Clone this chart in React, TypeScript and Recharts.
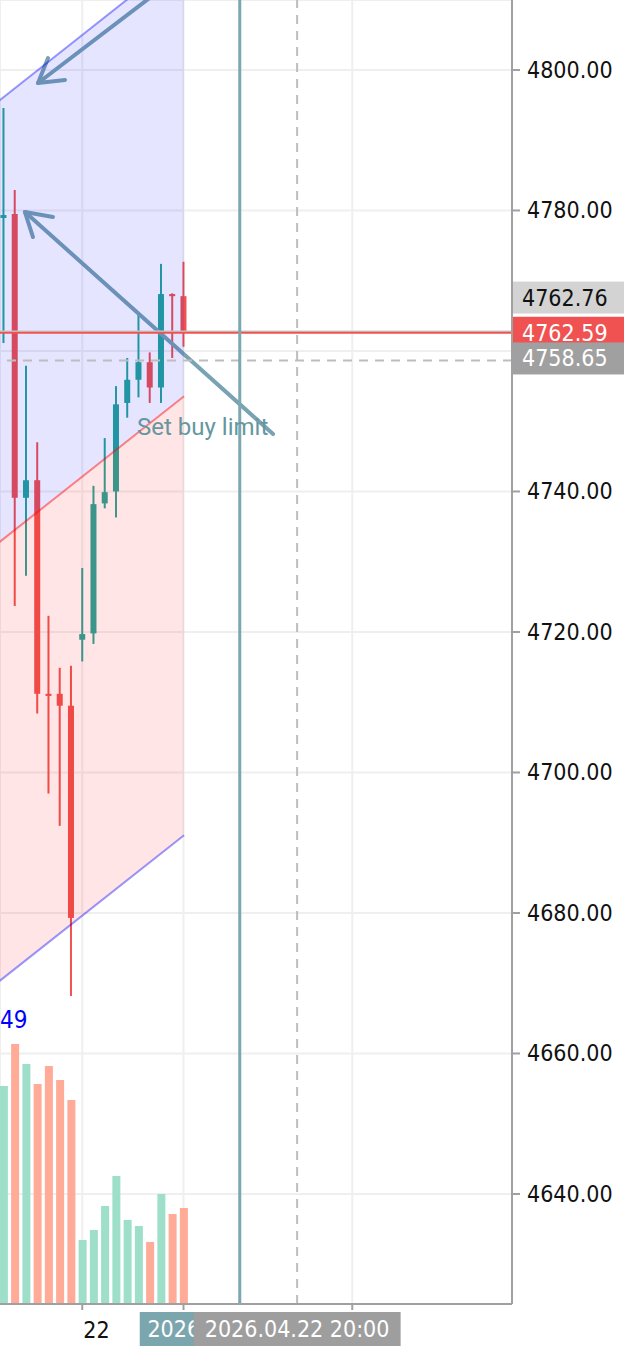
import React from 'react';
import {
  ComposedChart,
  Bar,
  Area,
  Line,
  XAxis,
  YAxis,
  CartesianGrid,
  ReferenceLine,
  ReferenceDot,
  Cell,
} from 'recharts';

const AXIS_FONT = '"DejaVu Sans Condensed", "DejaVu Sans", sans-serif';
const UP = '#26a69a';
const DOWN = '#ef5350';
const VOL_UP = '#9ddfc9';
const VOL_DOWN = '#ffab97';

// ---- candles (hourly bars, index 0 = leftmost visible) ----
const candleIdx = [0, 1, 2, 3, 4, 5, 6, 7, 8, 9, 10, 11, 12, 13, 14, 15, 16];
const openPrices = [4778.93, 4779.5, 4739.1, 4741.6, 4711.2, 4711.2, 4709.5, 4718.9, 4719.8, 4738.3, 4740.0, 4752.6, 4755.9, 4758.4, 4754.8, 4768.1, 4767.8];
const highPrices = [4794.59, 4782.9, 4757.9, 4747.0, 4722.3, 4714.9, 4715.2, 4729.1, 4740.8, 4747.6, 4755.0, 4759.0, 4765.4, 4759.8, 4772.4, 4768.2, 4772.7];
const lowPrices = [4761.13, 4723.7, 4728.0, 4708.4, 4697.0, 4692.4, 4668.2, 4715.8, 4718.3, 4737.6, 4736.3, 4750.5, 4753.4, 4752.6, 4752.6, 4759.0, 4760.6];
const closePrices = [4779.35, 4739.1, 4741.6, 4711.2, 4710.9, 4709.5, 4679.3, 4719.7, 4738.2, 4739.9, 4752.4, 4755.9, 4758.4, 4754.8, 4768.1, 4767.8, 4762.59];
const volumes = [2180, 2600, 2400, 2200, 2380, 2240, 2040, 640, 740, 980, 1280, 840, 780, 620, 1100, 900, 960];

// ---- axes ----
const priceTicks = [4640, 4660, 4680, 4700, 4720, 4740, 4760, 4780, 4800];
const hiddenPriceTicks = [4760];
const timeTicks = [7, 16, 31];
const timeTickLabels = ['22', '', ''];
const X_DOMAIN: [number, number] = [-0.311, 45.2];
const PRICE_DOMAIN: [number, number] = [4624.34, 4809.96];
const VOLUME_DOMAIN: [number, number] = [0, 13040];

// ---- parallel channel ----
const channelIdx = [-1, 16.05];
const channelUpper = [4794.86, 4816.43];
const channelMiddle = [4731.99, 4753.56];
const channelLower = [4669.5, 4691.07];

// ---- arrows (tail, tip, two head ends) ----
const arrowTailIdx = [13.91, 23.96];
const arrowTailPrice = [4811.38, 4748.18];
const arrowTipIdx = [3.07, 1.91];
const arrowTipPrice = [4798.15, 4779.78];
const arrowHeadAIdx = [5.47, 4.4];
const arrowHeadAPrice = [4798.57, 4779.07];
const arrowHeadBIdx = [3.96, 2.62];
const arrowHeadBPrice = [4801.7, 4776.22];

// ---- price / time lines ----
const askPrice = 4762.76;
const bidPrice = 4762.59;
const crossPrice = 4758.65;
const verticalLineIdx = 21;
const verticalLineLabel = '2026.04.22 15:00';
const crossIdx = 26.1;
const crossLabel = '2026.04.22 20:00';

// ---- text ----
const noteText = 'Set buy limit';
const noteIdx = 11.87;
const notePrice = 4748.04;
const volText = '49';
const volTextValue = 2760;

const candleData = candleIdx.map((i, k) => ({
  i,
  open: openPrices[k],
  high: highPrices[k],
  low: lowPrices[k],
  close: closePrices[k],
  volume: volumes[k],
}));

const channelData = channelIdx.map((i, k) => ({
  i,
  upper: channelUpper[k],
  middle: channelMiddle[k],
  lower: channelLower[k],
}));

const CandleShape = (props: any) => {
  const { x, y, width, height, payload } = props;
  if (x == null || y == null || !payload) return <g />;
  const { open, high, low, close } = payload;
  const cx = x + width / 2;
  const k = high - low === 0 ? 0 : height / (high - low);
  const yOpen = y + (high - open) * k;
  const yClose = y + (high - close) * k;
  const color = close >= open ? UP : DOWN;
  const top = Math.min(yOpen, yClose);
  const h = Math.max(Math.abs(yOpen - yClose), 1.5);
  return (
    <g>
      <line x1={cx} x2={cx} y1={y} y2={y + height} stroke={color} strokeWidth={2} />
      <rect x={cx - 3} y={top} width={6} height={h} fill={color} />
    </g>
  );
};

const PriceTick = (props: any) => {
  const { x, y, payload } = props;
  if (hiddenPriceTicks.includes(payload.value)) return <g />;
  return (
    <text x={x} y={y + 8} fill="#111" fontSize={23} fontFamily={AXIS_FONT} textAnchor="start">
      {Number(payload.value).toFixed(2)}
    </text>
  );
};

const TimeTick = (props: any) => {
  const { x, y, payload } = props;
  const idx = timeTicks.indexOf(payload.value);
  const label = idx >= 0 ? timeTickLabels[idx] : '';
  if (!label) return <g />;
  return (
    <text x={x + 1} y={y + 26} fill="#111" fontSize={23} fontFamily={AXIS_FONT} textAnchor="start">
      {label}
    </text>
  );
};

const priceBox = (value: number, bg: string, fg: string, shift: number) => (props: any) => {
  const vb = props.viewBox;
  if (!vb) return <g />;
  const cy = vb.y + shift;
  const left = vb.x + vb.width + 1;
  return (
    <g>
      <rect x={left} y={cy - 16} width={112} height={32} fill={bg} />
      <text x={left + 9} y={cy + 8} fill={fg} fontSize={23} fontFamily={AXIS_FONT}>
        {value.toFixed(2)}
      </text>
    </g>
  );
};

const timeBox = (text: string, bg: string, w: number) => (props: any) => {
  const vb = props.viewBox;
  if (!vb) return <g />;
  const cx = vb.x;
  const top = vb.y + vb.height + 8;
  return (
    <g>
      <rect x={cx - w / 2} y={top} width={w} height={34} fill={bg} />
      <text x={cx} y={top + 25} fill="#fff" fontSize={23} fontFamily={AXIS_FONT} textAnchor="middle">
        {text}
      </text>
    </g>
  );
};

const textLabel = (text: string, color: string, size: number, family: string, dx: number) => (props: any) => {
  const vb = props.viewBox;
  if (!vb) return <g />;
  return (
    <text x={vb.x + dx} y={vb.y} fill={color} fontSize={size} fontFamily={family} textAnchor="start">
      {text}
    </text>
  );
};

const ARROW = '#79a2b2';

export default function App() {
  const arrows = arrowTailIdx.map((_, k) => [
    <ReferenceLine
      key={`a${k}`}
      segment={[
        { x: arrowTailIdx[k], y: arrowTailPrice[k] },
        { x: arrowTipIdx[k], y: arrowTipPrice[k] },
      ]}
      stroke={ARROW}
      strokeWidth={4}
      strokeLinecap="round"
      ifOverflow="hidden"
      zIndex={350}
    />,
    <ReferenceLine
      key={`ha${k}`}
      segment={[
        { x: arrowTipIdx[k], y: arrowTipPrice[k] },
        { x: arrowHeadAIdx[k], y: arrowHeadAPrice[k] },
      ]}
      stroke={ARROW}
      strokeWidth={4}
      strokeLinecap="round"
      ifOverflow="hidden"
      zIndex={350}
    />,
    <ReferenceLine
      key={`hb${k}`}
      segment={[
        { x: arrowTipIdx[k], y: arrowTipPrice[k] },
        { x: arrowHeadBIdx[k], y: arrowHeadBPrice[k] },
      ]}
      stroke={ARROW}
      strokeWidth={4}
      strokeLinecap="round"
      ifOverflow="hidden"
      zIndex={350}
    />,
  ]);

  return (
    <div style={{ position: 'absolute', left: 0, top: 0, width: 624, height: 1352, background: '#fff' }}>
      <ComposedChart width={624} height={1352} data={candleData} margin={{ top: 0, right: 0, bottom: 0, left: 0 }}>
        <CartesianGrid stroke="#efefef" strokeWidth={2} />
        <XAxis
          dataKey="i"
          type="number"
          domain={X_DOMAIN}
          ticks={timeTicks}
          allowDataOverflow
          height={48}
          axisLine={{ stroke: '#a0a0a0', strokeWidth: 2 }}
          tickLine={{ stroke: '#a0a0a0', strokeWidth: 2 }}
          tickSize={6}
          tick={<TimeTick />}
          interval={0}
        />
        <XAxis
          xAxisId="top"
          dataKey="i"
          type="number"
          orientation="top"
          domain={X_DOMAIN}
          allowDataOverflow
          height={0}
          axisLine={{ stroke: '#a0a0a0', strokeWidth: 4 }}
          tick={false}
          tickLine={false}
        />
        <YAxis
          orientation="right"
          type="number"
          domain={PRICE_DOMAIN}
          ticks={priceTicks}
          allowDataOverflow
          width={112}
          axisLine={{ stroke: '#a0a0a0', strokeWidth: 2 }}
          tickLine={{ stroke: '#a0a0a0', strokeWidth: 2 }}
          tickSize={8}
          tickMargin={7}
          tick={<PriceTick />}
          interval={0}
        />
        <YAxis yAxisId="vol" hide domain={VOLUME_DOMAIN} type="number" allowDataOverflow />

        <Bar
          xAxisId="top"
          yAxisId="vol"
          dataKey="volume"
          barSize={8}
          isAnimationActive={false}
          zIndex={250}
        >
          {candleData.map((d, k) => (
            <Cell key={k} fill={d.close >= d.open ? VOL_UP : VOL_DOWN} />
          ))}
        </Bar>

        <Bar
          dataKey={(d: any) => [d.low, d.high]}
          barSize={6}
          shape={(p: any) => <CandleShape {...p} />}
          isAnimationActive={false}
          zIndex={300}
        />

        {arrows}

        <Area
          data={channelData}
          dataKey={(d: any) => [d.middle, d.upper]}
          type="linear"
          stroke="none"
          fill="#0000ff"
          fillOpacity={0.1}
          isAnimationActive={false}
          zIndex={450}
        />
        <Area
          data={channelData}
          dataKey={(d: any) => [d.lower, d.middle]}
          type="linear"
          stroke="none"
          fill="#ff0000"
          fillOpacity={0.1}
          isAnimationActive={false}
          zIndex={450}
        />
        <Line data={channelData} dataKey="upper" type="linear" stroke="#0000ff" strokeOpacity={0.4} strokeWidth={2} dot={false} isAnimationActive={false} zIndex={460} />
        <Line data={channelData} dataKey="middle" type="linear" stroke="#ff0000" strokeOpacity={0.45} strokeWidth={2} dot={false} isAnimationActive={false} zIndex={460} />
        <Line data={channelData} dataKey="lower" type="linear" stroke="#0000ff" strokeOpacity={0.4} strokeWidth={2} dot={false} isAnimationActive={false} zIndex={460} />

        <ReferenceLine x={verticalLineIdx} stroke="#7da7ae" strokeWidth={3} zIndex={480} label={timeBox(verticalLineLabel, '#7ba6ae', 200)} />
        <ReferenceLine x={crossIdx} stroke="#bdbdbd" strokeWidth={2} strokeDasharray="9 7" zIndex={480} label={timeBox(crossLabel, '#9e9e9e', 207)} />

        <ReferenceLine y={askPrice} stroke="#c8c8c8" strokeWidth={2} zIndex={470} label={priceBox(askPrice, '#d3d3d3', '#111', -34)} />
        <ReferenceLine y={bidPrice} stroke="#ef5350" strokeWidth={2} zIndex={470} label={priceBox(bidPrice, '#f05252', '#fff', 0)} />
        <ReferenceLine y={crossPrice} stroke="#bdbdbd" strokeWidth={2} strokeDasharray="9 7" zIndex={470} label={priceBox(crossPrice, '#a0a0a0', '#fff', -2)} />

        <ReferenceDot
          x={noteIdx}
          y={notePrice}
          r={0}
          fill="none"
          stroke="none"
          ifOverflow="visible"
          label={textLabel(noteText, '#66979f', 24, 'Roboto, sans-serif', 0)}
        />
        <ReferenceDot
          xAxisId="top"
          yAxisId="vol"
          x={X_DOMAIN[0]}
          y={volTextValue}
          r={0}
          fill="none"
          stroke="none"
          ifOverflow="visible"
          label={textLabel(volText, '#0000ff', 24, '"DejaVu Sans Condensed", "DejaVu Sans", sans-serif', 0)}
        />
      </ComposedChart>
    </div>
  );
}
